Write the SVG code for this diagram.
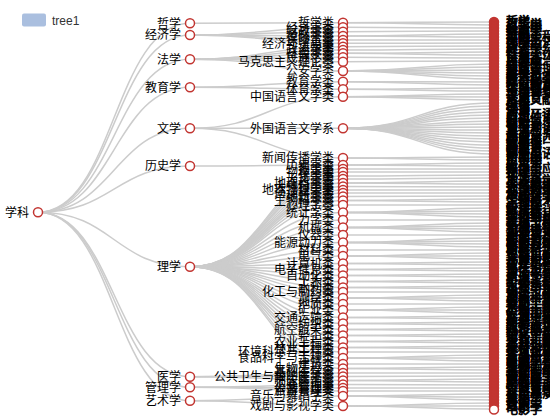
<svg xmlns="http://www.w3.org/2000/svg" width="550" height="420" viewBox="0 0 550 420">
<style>
.e path{fill:none;stroke:#ccc;stroke-width:1.5}
.nd{fill:#fff;stroke:#c23531;stroke-width:1.5}
.lf{fill:#c23531;stroke:#c23531;stroke-width:1.5}
.lb{font-family:"Noto Sans CJK SC","Liberation Sans",sans-serif;font-size:12px;fill:#000;text-anchor:end}
.lt{font-family:"Noto Sans CJK SC","Liberation Sans",sans-serif;font-size:12px;fill:#000;stroke:#000;stroke-width:0.7}
.lg{font-family:"Liberation Sans","Noto Sans CJK SC",sans-serif;font-size:12px;fill:#333}
</style>
<g id="legend"><rect x="22" y="13.5" width="24" height="13" rx="2" fill="#aabfdf"/><text class="lg" x="52" y="25">tree1</text></g>
<g class="e" id="connectors">
<path d="M38 212.3C114 212.3 114 23.3 190 23.3"/><path d="M38 212.3C114 212.3 114 35 190 35"/><path d="M38 212.3C114 212.3 114 59.3 190 59.3"/><path d="M38 212.3C114 212.3 114 87.3 190 87.3"/><path d="M38 212.3C114 212.3 114 128.3 190 128.3"/><path d="M38 212.3C114 212.3 114 166 190 166"/><path d="M38 212.3C114 212.3 114 266.7 190 266.7"/><path d="M38 212.3C114 212.3 114 376.7 190 376.7"/><path d="M38 212.3C114 212.3 114 387.3 190 387.3"/><path d="M38 212.3C114 212.3 114 400.7 190 400.7"/>
<path d="M190 23.3C266.5 23.3 266.5 22.7 343 22.7"/>
<path d="M190 35C266.5 35 266.5 27.3 343 27.3"/><path d="M190 35C266.5 35 266.5 31.7 343 31.7"/><path d="M190 35C266.5 35 266.5 36 343 36"/><path d="M190 35C266.5 35 266.5 40 343 40"/><path d="M190 35C266.5 35 266.5 43.3 343 43.3"/>
<path d="M190 59.3C266.5 59.3 266.5 46.7 343 46.7"/><path d="M190 59.3C266.5 59.3 266.5 50 343 50"/><path d="M190 59.3C266.5 59.3 266.5 53.3 343 53.3"/><path d="M190 59.3C266.5 59.3 266.5 57.3 343 57.3"/><path d="M190 59.3C266.5 59.3 266.5 61.7 343 61.7"/><path d="M190 59.3C266.5 59.3 266.5 71 343 71"/>
<path d="M190 87.3C266.5 87.3 266.5 81.7 343 81.7"/><path d="M190 87.3C266.5 87.3 266.5 89.3 343 89.3"/>
<path d="M190 128.3C266.5 128.3 266.5 96.7 343 96.7"/><path d="M190 128.3C266.5 128.3 266.5 128.3 343 128.3"/><path d="M190 128.3C266.5 128.3 266.5 158 343 158"/>
<path d="M190 166C266.5 166 266.5 165 343 165"/>
<path d="M190 266.7C266.5 266.7 266.5 169 343 169"/><path d="M190 266.7C266.5 266.7 266.5 172 343 172"/><path d="M190 266.7C266.5 266.7 266.5 176 343 176"/><path d="M190 266.7C266.5 266.7 266.5 179 343 179"/><path d="M190 266.7C266.5 266.7 266.5 183 343 183"/><path d="M190 266.7C266.5 266.7 266.5 186.5 343 186.5"/><path d="M190 266.7C266.5 266.7 266.5 190 343 190"/><path d="M190 266.7C266.5 266.7 266.5 193 343 193"/><path d="M190 266.7C266.5 266.7 266.5 196.5 343 196.5"/><path d="M190 266.7C266.5 266.7 266.5 200.5 343 200.5"/><path d="M190 266.7C266.5 266.7 266.5 205 343 205"/><path d="M190 266.7C266.5 266.7 266.5 212.5 343 212.5"/><path d="M190 266.7C266.5 266.7 266.5 220 343 220"/><path d="M190 266.7C266.5 266.7 266.5 227.5 343 227.5"/><path d="M190 266.7C266.5 266.7 266.5 235 343 235"/><path d="M190 266.7C266.5 266.7 266.5 242.5 343 242.5"/><path d="M190 266.7C266.5 266.7 266.5 250 343 250"/><path d="M190 266.7C266.5 266.7 266.5 256 343 256"/><path d="M190 266.7C266.5 266.7 266.5 263.5 343 263.5"/><path d="M190 266.7C266.5 266.7 266.5 269.5 343 269.5"/><path d="M190 266.7C266.5 266.7 266.5 275.5 343 275.5"/><path d="M190 266.7C266.5 266.7 266.5 281.5 343 281.5"/><path d="M190 266.7C266.5 266.7 266.5 287.5 343 287.5"/><path d="M190 266.7C266.5 266.7 266.5 292 343 292"/><path d="M190 266.7C266.5 266.7 266.5 298 343 298"/><path d="M190 266.7C266.5 266.7 266.5 304 343 304"/><path d="M190 266.7C266.5 266.7 266.5 310 343 310"/><path d="M190 266.7C266.5 266.7 266.5 317.5 343 317.5"/><path d="M190 266.7C266.5 266.7 266.5 323.5 343 323.5"/><path d="M190 266.7C266.5 266.7 266.5 329.5 343 329.5"/><path d="M190 266.7C266.5 266.7 266.5 335.5 343 335.5"/><path d="M190 266.7C266.5 266.7 266.5 341.5 343 341.5"/><path d="M190 266.7C266.5 266.7 266.5 347.5 343 347.5"/><path d="M190 266.7C266.5 266.7 266.5 352 343 352"/><path d="M190 266.7C266.5 266.7 266.5 358 343 358"/><path d="M190 266.7C266.5 266.7 266.5 364 343 364"/><path d="M190 266.7C266.5 266.7 266.5 368.5 343 368.5"/>
<path d="M190 376.7C266.5 376.7 266.5 373 343 373"/><path d="M190 376.7C266.5 376.7 266.5 376.5 343 376.5"/><path d="M190 376.7C266.5 376.7 266.5 380.5 343 380.5"/>
<path d="M190 387.3C266.5 387.3 266.5 384.5 343 384.5"/><path d="M190 387.3C266.5 387.3 266.5 388 343 388"/><path d="M190 387.3C266.5 387.3 266.5 391 343 391"/>
<path d="M190 400.7C266.5 400.7 266.5 396 343 396"/><path d="M190 400.7C266.5 400.7 266.5 406 343 406"/>
<path d="M343 22.7C418.5 22.7 418.5 22 494 22"/><path d="M343 22.7C418.5 22.7 418.5 25 494 25"/>
<path d="M343 27.3C418.5 27.3 418.5 28 494 28"/><path d="M343 31.7C418.5 31.7 418.5 31 494 31"/><path d="M343 36C418.5 36 418.5 34 494 34"/><path d="M343 36C418.5 36 418.5 37 494 37"/><path d="M343 40C418.5 40 418.5 40 494 40"/><path d="M343 43.3C418.5 43.3 418.5 43 494 43"/>
<path d="M343 46.7C418.5 46.7 418.5 46 494 46"/><path d="M343 50C418.5 50 418.5 49 494 49"/><path d="M343 53.3C418.5 53.3 418.5 52 494 52"/><path d="M343 53.3C418.5 53.3 418.5 55 494 55"/><path d="M343 57.3C418.5 57.3 418.5 58 494 58"/><path d="M343 61.7C418.5 61.7 418.5 61 494 61"/>
<path d="M343 71C418.5 71 418.5 64 494 64"/><path d="M343 71C418.5 71 418.5 67 494 67"/><path d="M343 71C418.5 71 418.5 70 494 70"/><path d="M343 71C418.5 71 418.5 73 494 73"/><path d="M343 71C418.5 71 418.5 76 494 76"/><path d="M343 71C418.5 71 418.5 79 494 79"/>
<path d="M343 81.7C418.5 81.7 418.5 82 494 82"/><path d="M343 81.7C418.5 81.7 418.5 85 494 85"/><path d="M343 89.3C418.5 89.3 418.5 88 494 88"/><path d="M343 89.3C418.5 89.3 418.5 91 494 91"/>
<path d="M343 96.7C418.5 96.7 418.5 94 494 94"/><path d="M343 96.7C418.5 96.7 418.5 97 494 97"/><path d="M343 96.7C418.5 96.7 418.5 100 494 100"/>
<path d="M343 128.3C418.5 128.3 418.5 103 494 103"/><path d="M343 128.3C418.5 128.3 418.5 106 494 106"/><path d="M343 128.3C418.5 128.3 418.5 109 494 109"/><path d="M343 128.3C418.5 128.3 418.5 112 494 112"/><path d="M343 128.3C418.5 128.3 418.5 115 494 115"/><path d="M343 128.3C418.5 128.3 418.5 118 494 118"/><path d="M343 128.3C418.5 128.3 418.5 121 494 121"/><path d="M343 128.3C418.5 128.3 418.5 124 494 124"/><path d="M343 128.3C418.5 128.3 418.5 127 494 127"/><path d="M343 128.3C418.5 128.3 418.5 130 494 130"/><path d="M343 128.3C418.5 128.3 418.5 133 494 133"/><path d="M343 128.3C418.5 128.3 418.5 136 494 136"/><path d="M343 128.3C418.5 128.3 418.5 139 494 139"/><path d="M343 128.3C418.5 128.3 418.5 142 494 142"/><path d="M343 128.3C418.5 128.3 418.5 145 494 145"/><path d="M343 128.3C418.5 128.3 418.5 148 494 148"/><path d="M343 128.3C418.5 128.3 418.5 151 494 151"/><path d="M343 128.3C418.5 128.3 418.5 154 494 154"/>
<path d="M343 158C418.5 158 418.5 157 494 157"/><path d="M343 158C418.5 158 418.5 160 494 160"/><path d="M343 165C418.5 165 418.5 163 494 163"/><path d="M343 165C418.5 165 418.5 166 494 166"/>
<path d="M343 169C418.5 169 418.5 169 494 169"/><path d="M343 172C418.5 172 418.5 172 494 172"/><path d="M343 176C418.5 176 418.5 175 494 175"/><path d="M343 179C418.5 179 418.5 178 494 178"/><path d="M343 183C418.5 183 418.5 181 494 181"/><path d="M343 183C418.5 183 418.5 184 494 184"/><path d="M343 186.5C418.5 186.5 418.5 187 494 187"/><path d="M343 190C418.5 190 418.5 190 494 190"/><path d="M343 193C418.5 193 418.5 193 494 193"/><path d="M343 196.5C418.5 196.5 418.5 196 494 196"/><path d="M343 200.5C418.5 200.5 418.5 199 494 199"/><path d="M343 200.5C418.5 200.5 418.5 202 494 202"/><path d="M343 205C418.5 205 418.5 205 494 205"/>
<path d="M343 212.5C418.5 212.5 418.5 208 494 208"/><path d="M343 212.5C418.5 212.5 418.5 211 494 211"/><path d="M343 212.5C418.5 212.5 418.5 214 494 214"/><path d="M343 212.5C418.5 212.5 418.5 217 494 217"/><path d="M343 220C418.5 220 418.5 220 494 220"/>
<path d="M343 227.5C418.5 227.5 418.5 223 494 223"/><path d="M343 227.5C418.5 227.5 418.5 226 494 226"/><path d="M343 227.5C418.5 227.5 418.5 229 494 229"/><path d="M343 227.5C418.5 227.5 418.5 232 494 232"/><path d="M343 235C418.5 235 418.5 235 494 235"/>
<path d="M343 242.5C418.5 242.5 418.5 238 494 238"/><path d="M343 242.5C418.5 242.5 418.5 241 494 241"/><path d="M343 242.5C418.5 242.5 418.5 244 494 244"/><path d="M343 242.5C418.5 242.5 418.5 247 494 247"/><path d="M343 250C418.5 250 418.5 250 494 250"/>
<path d="M343 256C418.5 256 418.5 253 494 253"/><path d="M343 256C418.5 256 418.5 256 494 256"/><path d="M343 256C418.5 256 418.5 259 494 259"/><path d="M343 263.5C418.5 263.5 418.5 262 494 262"/><path d="M343 263.5C418.5 263.5 418.5 265 494 265"/><path d="M343 269.5C418.5 269.5 418.5 268 494 268"/><path d="M343 269.5C418.5 269.5 418.5 271 494 271"/><path d="M343 275.5C418.5 275.5 418.5 274 494 274"/><path d="M343 275.5C418.5 275.5 418.5 277 494 277"/><path d="M343 281.5C418.5 281.5 418.5 280 494 280"/><path d="M343 281.5C418.5 281.5 418.5 283 494 283"/><path d="M343 287.5C418.5 287.5 418.5 286 494 286"/><path d="M343 287.5C418.5 287.5 418.5 289 494 289"/><path d="M343 292C418.5 292 418.5 292 494 292"/>
<path d="M343 298C418.5 298 418.5 295 494 295"/><path d="M343 298C418.5 298 418.5 298 494 298"/><path d="M343 298C418.5 298 418.5 301 494 301"/><path d="M343 304C418.5 304 418.5 304 494 304"/><path d="M343 310C418.5 310 418.5 307 494 307"/><path d="M343 310C418.5 310 418.5 310 494 310"/><path d="M343 310C418.5 310 418.5 313 494 313"/>
<path d="M343 317.5C418.5 317.5 418.5 316 494 316"/><path d="M343 317.5C418.5 317.5 418.5 319 494 319"/><path d="M343 323.5C418.5 323.5 418.5 322 494 322"/><path d="M343 323.5C418.5 323.5 418.5 325 494 325"/><path d="M343 329.5C418.5 329.5 418.5 328 494 328"/><path d="M343 329.5C418.5 329.5 418.5 331 494 331"/><path d="M343 335.5C418.5 335.5 418.5 334 494 334"/><path d="M343 335.5C418.5 335.5 418.5 337 494 337"/><path d="M343 341.5C418.5 341.5 418.5 340 494 340"/><path d="M343 341.5C418.5 341.5 418.5 343 494 343"/><path d="M343 347.5C418.5 347.5 418.5 346 494 346"/><path d="M343 347.5C418.5 347.5 418.5 349 494 349"/><path d="M343 352C418.5 352 418.5 352 494 352"/>
<path d="M343 358C418.5 358 418.5 355 494 355"/><path d="M343 358C418.5 358 418.5 358 494 358"/><path d="M343 358C418.5 358 418.5 361 494 361"/><path d="M343 364C418.5 364 418.5 364 494 364"/><path d="M343 368.5C418.5 368.5 418.5 367 494 367"/><path d="M343 368.5C418.5 368.5 418.5 370 494 370"/>
<path d="M343 373C418.5 373 418.5 373 494 373"/><path d="M343 376.5C418.5 376.5 418.5 376 494 376"/><path d="M343 380.5C418.5 380.5 418.5 379 494 379"/><path d="M343 380.5C418.5 380.5 418.5 382 494 382"/>
<path d="M343 384.5C418.5 384.5 418.5 385 494 385"/><path d="M343 388C418.5 388 418.5 388 494 388"/><path d="M343 391C418.5 391 418.5 391 494 391"/>
<path d="M343 396C418.5 396 418.5 394 494 394"/><path d="M343 396C418.5 396 418.5 397 494 397"/><path d="M343 396C418.5 396 418.5 400 494 400"/><path d="M343 406C418.5 406 418.5 403 494 403"/><path d="M343 406C418.5 406 418.5 406 494 406"/><path d="M343 406C418.5 406 418.5 409 494 409"/>
</g>
<g id="n0"><circle class="nd" cx="38" cy="212.3" r="4.5"/><text class="lb" x="29" y="216.5">学科</text></g>
<g id="n1-zx"><circle class="nd" cx="190" cy="23.3" r="4.5"/><text class="lb" x="181" y="27.5">哲学</text></g>
<g id="n1-jj"><circle class="nd" cx="190" cy="35" r="4.5"/><text class="lb" x="181" y="39.2">经济学</text></g>
<g id="n1-fx"><circle class="nd" cx="190" cy="59.3" r="4.5"/><text class="lb" x="181" y="63.5">法学</text></g>
<g id="n1-jy"><circle class="nd" cx="190" cy="87.3" r="4.5"/><text class="lb" x="181" y="91.5">教育学</text></g>
<g id="n1-wx"><circle class="nd" cx="190" cy="128.3" r="4.5"/><text class="lb" x="181" y="132.5">文学</text></g>
<g id="n1-ls"><circle class="nd" cx="190" cy="166" r="4.5"/><text class="lb" x="181" y="170.2">历史学</text></g>
<g id="n1-lx"><circle class="nd" cx="190" cy="266.7" r="4.5"/><text class="lb" x="181" y="270.9">理学</text></g>
<g id="n1-yx"><circle class="nd" cx="190" cy="376.7" r="4.5"/><text class="lb" x="181" y="380.9">医学</text></g>
<g id="n1-gl"><circle class="nd" cx="190" cy="387.3" r="4.5"/><text class="lb" x="181" y="391.5">管理学</text></g>
<g id="n1-ys"><circle class="nd" cx="190" cy="400.7" r="4.5"/><text class="lb" x="181" y="404.9">艺术学</text></g>
<g id="n2-1"><circle class="nd" cx="343" cy="22.7" r="4.5"/><text class="lb" x="334" y="26.9">哲学类</text></g>
<g id="n2-2"><circle class="nd" cx="343" cy="27.3" r="4.5"/><text class="lb" x="334" y="31.5">经济学类</text></g>
<g id="n2-3"><circle class="nd" cx="343" cy="31.7" r="4.5"/><text class="lb" x="334" y="35.9">财政学类</text></g>
<g id="n2-4"><circle class="nd" cx="343" cy="36" r="4.5"/><text class="lb" x="334" y="40.2">金融学类</text></g>
<g id="n2-5"><circle class="nd" cx="343" cy="40" r="4.5"/><text class="lb" x="334" y="44.2">保险学类</text></g>
<g id="n2-6"><circle class="nd" cx="343" cy="43.3" r="4.5"/><text class="lb" x="334" y="47.5">经济与贸易类</text></g>
<g id="n2-7"><circle class="nd" cx="343" cy="46.7" r="4.5"/><text class="lb" x="334" y="50.9">法学类</text></g>
<g id="n2-8"><circle class="nd" cx="343" cy="50" r="4.5"/><text class="lb" x="334" y="54.2">政治学类</text></g>
<g id="n2-9"><circle class="nd" cx="343" cy="53.3" r="4.5"/><text class="lb" x="334" y="57.5">社会学类</text></g>
<g id="n2-10"><circle class="nd" cx="343" cy="57.3" r="4.5"/><text class="lb" x="334" y="61.5">民族学类</text></g>
<g id="n2-11"><circle class="nd" cx="343" cy="61.7" r="4.5"/><text class="lb" x="334" y="65.9">马克思主义理论类</text></g>
<g id="n2-12"><circle class="nd" cx="343" cy="71" r="4.5"/><text class="lb" x="334" y="75.2">公安学类</text></g>
<g id="n2-13"><circle class="nd" cx="343" cy="81.7" r="4.5"/><text class="lb" x="334" y="85.9">教育学类</text></g>
<g id="n2-14"><circle class="nd" cx="343" cy="89.3" r="4.5"/><text class="lb" x="334" y="93.5">体育学类</text></g>
<g id="n2-15"><circle class="nd" cx="343" cy="96.7" r="4.5"/><text class="lb" x="334" y="100.9">中国语言文学类</text></g>
<g id="n2-16"><circle class="nd" cx="343" cy="128.3" r="4.5"/><text class="lb" x="334" y="132.5">外国语言文学系</text></g>
<g id="n2-17"><circle class="nd" cx="343" cy="158" r="4.5"/><text class="lb" x="334" y="162.2">新闻传播学类</text></g>
<g id="n2-18"><circle class="nd" cx="343" cy="165" r="4.5"/><text class="lb" x="334" y="169.2">历史学类</text></g>
<g id="n2-19"><circle class="nd" cx="343" cy="169" r="4.5"/><text class="lb" x="334" y="173.2">数学类</text></g>
<g id="n2-20"><circle class="nd" cx="343" cy="172" r="4.5"/><text class="lb" x="334" y="176.2">物理学类</text></g>
<g id="n2-21"><circle class="nd" cx="343" cy="176" r="4.5"/><text class="lb" x="334" y="180.2">化学类</text></g>
<g id="n2-22"><circle class="nd" cx="343" cy="179" r="4.5"/><text class="lb" x="334" y="183.2">天文学类</text></g>
<g id="n2-23"><circle class="nd" cx="343" cy="183" r="4.5"/><text class="lb" x="334" y="187.2">地理科学类</text></g>
<g id="n2-24"><circle class="nd" cx="343" cy="186.5" r="4.5"/><text class="lb" x="334" y="190.7">大气科学类</text></g>
<g id="n2-25"><circle class="nd" cx="343" cy="190" r="4.5"/><text class="lb" x="334" y="194.2">地球物理学类</text></g>
<g id="n2-26"><circle class="nd" cx="343" cy="193" r="4.5"/><text class="lb" x="334" y="197.2">海洋科学类</text></g>
<g id="n2-27"><circle class="nd" cx="343" cy="196.5" r="4.5"/><text class="lb" x="334" y="200.7">地质学类</text></g>
<g id="n2-28"><circle class="nd" cx="343" cy="200.5" r="4.5"/><text class="lb" x="334" y="204.7">生物科学类</text></g>
<g id="n2-29"><circle class="nd" cx="343" cy="205" r="4.5"/><text class="lb" x="334" y="209.2">心理学类</text></g>
<g id="n2-30"><circle class="nd" cx="343" cy="212.5" r="4.5"/><text class="lb" x="334" y="216.7">统计学类</text></g>
<g id="n2-31"><circle class="nd" cx="343" cy="220" r="4.5"/><text class="lb" x="334" y="224.2">力学类</text></g>
<g id="n2-32"><circle class="nd" cx="343" cy="227.5" r="4.5"/><text class="lb" x="334" y="231.7">机械类</text></g>
<g id="n2-33"><circle class="nd" cx="343" cy="235" r="4.5"/><text class="lb" x="334" y="239.2">仪器类</text></g>
<g id="n2-34"><circle class="nd" cx="343" cy="242.5" r="4.5"/><text class="lb" x="334" y="246.7">能源动力类</text></g>
<g id="n2-35"><circle class="nd" cx="343" cy="250" r="4.5"/><text class="lb" x="334" y="254.2">材料类</text></g>
<g id="n2-36"><circle class="nd" cx="343" cy="256" r="4.5"/><text class="lb" x="334" y="260.2">电气类</text></g>
<g id="n2-37"><circle class="nd" cx="343" cy="263.5" r="4.5"/><text class="lb" x="334" y="267.7">计算机类</text></g>
<g id="n2-38"><circle class="nd" cx="343" cy="269.5" r="4.5"/><text class="lb" x="334" y="273.7">电子信息类</text></g>
<g id="n2-39"><circle class="nd" cx="343" cy="275.5" r="4.5"/><text class="lb" x="334" y="279.7">自动化类</text></g>
<g id="n2-40"><circle class="nd" cx="343" cy="281.5" r="4.5"/><text class="lb" x="334" y="285.7">土木类</text></g>
<g id="n2-41"><circle class="nd" cx="343" cy="287.5" r="4.5"/><text class="lb" x="334" y="291.7">水利类</text></g>
<g id="n2-42"><circle class="nd" cx="343" cy="292" r="4.5"/><text class="lb" x="334" y="296.2">化工与制药类</text></g>
<g id="n2-43"><circle class="nd" cx="343" cy="298" r="4.5"/><text class="lb" x="334" y="302.2">测绘类</text></g>
<g id="n2-44"><circle class="nd" cx="343" cy="304" r="4.5"/><text class="lb" x="334" y="308.2">地质类</text></g>
<g id="n2-45"><circle class="nd" cx="343" cy="310" r="4.5"/><text class="lb" x="334" y="314.2">矿业类</text></g>
<g id="n2-46"><circle class="nd" cx="343" cy="317.5" r="4.5"/><text class="lb" x="334" y="321.7">交通运输类</text></g>
<g id="n2-47"><circle class="nd" cx="343" cy="323.5" r="4.5"/><text class="lb" x="334" y="327.7">纺织类</text></g>
<g id="n2-48"><circle class="nd" cx="343" cy="329.5" r="4.5"/><text class="lb" x="334" y="333.7">航空航天类</text></g>
<g id="n2-49"><circle class="nd" cx="343" cy="335.5" r="4.5"/><text class="lb" x="334" y="339.7">轻工类</text></g>
<g id="n2-50"><circle class="nd" cx="343" cy="341.5" r="4.5"/><text class="lb" x="334" y="345.7">农业工程类</text></g>
<g id="n2-51"><circle class="nd" cx="343" cy="347.5" r="4.5"/><text class="lb" x="334" y="351.7">林业工程类</text></g>
<g id="n2-52"><circle class="nd" cx="343" cy="352" r="4.5"/><text class="lb" x="334" y="356.2">环境科学与工程类</text></g>
<g id="n2-53"><circle class="nd" cx="343" cy="358" r="4.5"/><text class="lb" x="334" y="362.2">食品科学与工程类</text></g>
<g id="n2-54"><circle class="nd" cx="343" cy="364" r="4.5"/><text class="lb" x="334" y="368.2">建筑类</text></g>
<g id="n2-55"><circle class="nd" cx="343" cy="368.5" r="4.5"/><text class="lb" x="334" y="372.7">生物工程类</text></g>
<g id="n2-56"><circle class="nd" cx="343" cy="373" r="4.5"/><text class="lb" x="334" y="377.2">基础医学类</text></g>
<g id="n2-57"><circle class="nd" cx="343" cy="376.5" r="4.5"/><text class="lb" x="334" y="380.7">公共卫生与预防医学类</text></g>
<g id="n2-58"><circle class="nd" cx="343" cy="380.5" r="4.5"/><text class="lb" x="334" y="384.7">临床医学类</text></g>
<g id="n2-59"><circle class="nd" cx="343" cy="384.5" r="4.5"/><text class="lb" x="334" y="388.7">工商管理类</text></g>
<g id="n2-60"><circle class="nd" cx="343" cy="388" r="4.5"/><text class="lb" x="334" y="392.2">公共管理类</text></g>
<g id="n2-61"><circle class="nd" cx="343" cy="391" r="4.5"/><text class="lb" x="334" y="395.2">旅游管理类</text></g>
<g id="n2-62"><circle class="nd" cx="343" cy="396" r="4.5"/><text class="lb" x="334" y="400.2">音乐与舞蹈学类</text></g>
<g id="n2-63"><circle class="nd" cx="343" cy="406" r="4.5"/><text class="lb" x="334" y="410.2">戏剧与影视学类</text></g>
<g id="leaves">
<g id="l1"><circle class="lf" cx="494" cy="22" r="4.5"/><text class="lt" x="506" y="26">哲学</text></g>
<g id="l2"><circle class="lf" cx="494" cy="25" r="4.5"/><text class="lt" x="506" y="29">逻辑学</text></g>
<g id="l3"><circle class="lf" cx="494" cy="28" r="4.5"/><text class="lt" x="506" y="32">经济学</text></g>
<g id="l4"><circle class="lf" cx="494" cy="31" r="4.5"/><text class="lt" x="506" y="35">财政学</text></g>
<g id="l5"><circle class="lf" cx="494" cy="34" r="4.5"/><text class="lt" x="506" y="38">金融学</text></g>
<g id="l6"><circle class="lf" cx="494" cy="37" r="4.5"/><text class="lt" x="506" y="41">金融工程</text></g>
<g id="l7"><circle class="lf" cx="494" cy="40" r="4.5"/><text class="lt" x="506" y="44">保险学</text></g>
<g id="l8"><circle class="lf" cx="494" cy="43" r="4.5"/><text class="lt" x="506" y="47">国际经济与贸易</text></g>
<g id="l9"><circle class="lf" cx="494" cy="46" r="4.5"/><text class="lt" x="506" y="50">法学</text></g>
<g id="l10"><circle class="lf" cx="494" cy="49" r="4.5"/><text class="lt" x="506" y="53">政治学与行政学</text></g>
<g id="l11"><circle class="lf" cx="494" cy="52" r="4.5"/><text class="lt" x="506" y="56">社会学</text></g>
<g id="l12"><circle class="lf" cx="494" cy="55" r="4.5"/><text class="lt" x="506" y="59">社会工作</text></g>
<g id="l13"><circle class="lf" cx="494" cy="58" r="4.5"/><text class="lt" x="506" y="62">民族学</text></g>
<g id="l14"><circle class="lf" cx="494" cy="61" r="4.5"/><text class="lt" x="506" y="65">思想政治教育</text></g>
<g id="l15"><circle class="lf" cx="494" cy="64" r="4.5"/><text class="lt" x="506" y="68">治安学</text></g>
<g id="l16"><circle class="lf" cx="494" cy="67" r="4.5"/><text class="lt" x="506" y="71">侦查学</text></g>
<g id="l17"><circle class="lf" cx="494" cy="70" r="4.5"/><text class="lt" x="506" y="74">边防管理</text></g>
<g id="l18"><circle class="lf" cx="494" cy="73" r="4.5"/><text class="lt" x="506" y="77">禁毒学</text></g>
<g id="l19"><circle class="lf" cx="494" cy="76" r="4.5"/><text class="lt" x="506" y="80">警犬技术</text></g>
<g id="l20"><circle class="lf" cx="494" cy="79" r="4.5"/><text class="lt" x="506" y="83">经济犯罪侦查</text></g>
<g id="l21"><circle class="lf" cx="494" cy="82" r="4.5"/><text class="lt" x="506" y="86">教育学</text></g>
<g id="l22"><circle class="lf" cx="494" cy="85" r="4.5"/><text class="lt" x="506" y="89">学前教育</text></g>
<g id="l23"><circle class="lf" cx="494" cy="88" r="4.5"/><text class="lt" x="506" y="92">体育教育</text></g>
<g id="l24"><circle class="lf" cx="494" cy="91" r="4.5"/><text class="lt" x="506" y="95">运动训练</text></g>
<g id="l25"><circle class="lf" cx="494" cy="94" r="4.5"/><text class="lt" x="506" y="98">汉语言文学</text></g>
<g id="l26"><circle class="lf" cx="494" cy="97" r="4.5"/><text class="lt" x="506" y="101">汉语言</text></g>
<g id="l27"><circle class="lf" cx="494" cy="100" r="4.5"/><text class="lt" x="506" y="104">古典文献学</text></g>
<g id="l28"><circle class="lf" cx="494" cy="103" r="4.5"/><text class="lt" x="506" y="107">英语</text></g>
<g id="l29"><circle class="lf" cx="494" cy="106" r="4.5"/><text class="lt" x="506" y="110">俄语</text></g>
<g id="l30"><circle class="lf" cx="494" cy="109" r="4.5"/><text class="lt" x="506" y="113">德语</text></g>
<g id="l31"><circle class="lf" cx="494" cy="112" r="4.5"/><text class="lt" x="506" y="116">法语</text></g>
<g id="l32"><circle class="lf" cx="494" cy="115" r="4.5"/><text class="lt" x="506" y="119">西班牙语</text></g>
<g id="l33"><circle class="lf" cx="494" cy="118" r="4.5"/><text class="lt" x="506" y="122">阿拉伯语</text></g>
<g id="l34"><circle class="lf" cx="494" cy="121" r="4.5"/><text class="lt" x="506" y="125">日语</text></g>
<g id="l35"><circle class="lf" cx="494" cy="124" r="4.5"/><text class="lt" x="506" y="128">朝鲜语</text></g>
<g id="l36"><circle class="lf" cx="494" cy="127" r="4.5"/><text class="lt" x="506" y="131">葡萄牙语</text></g>
<g id="l37"><circle class="lf" cx="494" cy="130" r="4.5"/><text class="lt" x="506" y="134">意大利语</text></g>
<g id="l38"><circle class="lf" cx="494" cy="133" r="4.5"/><text class="lt" x="506" y="137">泰语</text></g>
<g id="l39"><circle class="lf" cx="494" cy="136" r="4.5"/><text class="lt" x="506" y="140">越南语</text></g>
<g id="l40"><circle class="lf" cx="494" cy="139" r="4.5"/><text class="lt" x="506" y="143">印度尼西亚语</text></g>
<g id="l41"><circle class="lf" cx="494" cy="142" r="4.5"/><text class="lt" x="506" y="146">波斯语</text></g>
<g id="l42"><circle class="lf" cx="494" cy="145" r="4.5"/><text class="lt" x="506" y="149">缅甸语</text></g>
<g id="l43"><circle class="lf" cx="494" cy="148" r="4.5"/><text class="lt" x="506" y="152">希腊语</text></g>
<g id="l44"><circle class="lf" cx="494" cy="151" r="4.5"/><text class="lt" x="506" y="155">翻译</text></g>
<g id="l45"><circle class="lf" cx="494" cy="154" r="4.5"/><text class="lt" x="506" y="158">商务英语</text></g>
<g id="l46"><circle class="lf" cx="494" cy="157" r="4.5"/><text class="lt" x="506" y="161">新闻学</text></g>
<g id="l47"><circle class="lf" cx="494" cy="160" r="4.5"/><text class="lt" x="506" y="164">广告学</text></g>
<g id="l48"><circle class="lf" cx="494" cy="163" r="4.5"/><text class="lt" x="506" y="167">历史学</text></g>
<g id="l49"><circle class="lf" cx="494" cy="166" r="4.5"/><text class="lt" x="506" y="170">考古学</text></g>
<g id="l50"><circle class="lf" cx="494" cy="169" r="4.5"/><text class="lt" x="506" y="173">数学与应用数学</text></g>
<g id="l51"><circle class="lf" cx="494" cy="172" r="4.5"/><text class="lt" x="506" y="176">物理学</text></g>
<g id="l52"><circle class="lf" cx="494" cy="175" r="4.5"/><text class="lt" x="506" y="179">化学</text></g>
<g id="l53"><circle class="lf" cx="494" cy="178" r="4.5"/><text class="lt" x="506" y="182">天文学</text></g>
<g id="l54"><circle class="lf" cx="494" cy="181" r="4.5"/><text class="lt" x="506" y="185">地理科学</text></g>
<g id="l55"><circle class="lf" cx="494" cy="184" r="4.5"/><text class="lt" x="506" y="188">人文地理与城乡规划</text></g>
<g id="l56"><circle class="lf" cx="494" cy="187" r="4.5"/><text class="lt" x="506" y="191">大气科学</text></g>
<g id="l57"><circle class="lf" cx="494" cy="190" r="4.5"/><text class="lt" x="506" y="194">地球物理学</text></g>
<g id="l58"><circle class="lf" cx="494" cy="193" r="4.5"/><text class="lt" x="506" y="197">海洋科学</text></g>
<g id="l59"><circle class="lf" cx="494" cy="196" r="4.5"/><text class="lt" x="506" y="200">地质学</text></g>
<g id="l60"><circle class="lf" cx="494" cy="199" r="4.5"/><text class="lt" x="506" y="203">生物科学</text></g>
<g id="l61"><circle class="lf" cx="494" cy="202" r="4.5"/><text class="lt" x="506" y="206">生物技术</text></g>
<g id="l62"><circle class="lf" cx="494" cy="205" r="4.5"/><text class="lt" x="506" y="209">心理学</text></g>
<g id="l63"><circle class="lf" cx="494" cy="208" r="4.5"/><text class="lt" x="506" y="212">统计学</text></g>
<g id="l64"><circle class="lf" cx="494" cy="211" r="4.5"/><text class="lt" x="506" y="215">应用统计学</text></g>
<g id="l65"><circle class="lf" cx="494" cy="214" r="4.5"/><text class="lt" x="506" y="218">经济统计学</text></g>
<g id="l66"><circle class="lf" cx="494" cy="217" r="4.5"/><text class="lt" x="506" y="221">生物统计学</text></g>
<g id="l67"><circle class="lf" cx="494" cy="220" r="4.5"/><text class="lt" x="506" y="224">理论与应用力学</text></g>
<g id="l68"><circle class="lf" cx="494" cy="223" r="4.5"/><text class="lt" x="506" y="227">机械工程</text></g>
<g id="l69"><circle class="lf" cx="494" cy="226" r="4.5"/><text class="lt" x="506" y="230">车辆工程</text></g>
<g id="l70"><circle class="lf" cx="494" cy="229" r="4.5"/><text class="lt" x="506" y="233">机械电子工程</text></g>
<g id="l71"><circle class="lf" cx="494" cy="232" r="4.5"/><text class="lt" x="506" y="236">工业设计</text></g>
<g id="l72"><circle class="lf" cx="494" cy="235" r="4.5"/><text class="lt" x="506" y="239">测控技术与仪器</text></g>
<g id="l73"><circle class="lf" cx="494" cy="238" r="4.5"/><text class="lt" x="506" y="242">能源与动力工程</text></g>
<g id="l74"><circle class="lf" cx="494" cy="241" r="4.5"/><text class="lt" x="506" y="245">新能源科学与工程</text></g>
<g id="l75"><circle class="lf" cx="494" cy="244" r="4.5"/><text class="lt" x="506" y="248">能源与环境系统工程</text></g>
<g id="l76"><circle class="lf" cx="494" cy="247" r="4.5"/><text class="lt" x="506" y="251">储能科学与工程</text></g>
<g id="l77"><circle class="lf" cx="494" cy="250" r="4.5"/><text class="lt" x="506" y="254">材料科学与工程</text></g>
<g id="l78"><circle class="lf" cx="494" cy="253" r="4.5"/><text class="lt" x="506" y="257">电气工程及其自动化</text></g>
<g id="l79"><circle class="lf" cx="494" cy="256" r="4.5"/><text class="lt" x="506" y="260">智能电网信息工程</text></g>
<g id="l80"><circle class="lf" cx="494" cy="259" r="4.5"/><text class="lt" x="506" y="263">光源与照明</text></g>
<g id="l81"><circle class="lf" cx="494" cy="262" r="4.5"/><text class="lt" x="506" y="266">计算机科学与技术</text></g>
<g id="l82"><circle class="lf" cx="494" cy="265" r="4.5"/><text class="lt" x="506" y="269">软件工程</text></g>
<g id="l83"><circle class="lf" cx="494" cy="268" r="4.5"/><text class="lt" x="506" y="272">电子信息工程</text></g>
<g id="l84"><circle class="lf" cx="494" cy="271" r="4.5"/><text class="lt" x="506" y="275">通信工程</text></g>
<g id="l85"><circle class="lf" cx="494" cy="274" r="4.5"/><text class="lt" x="506" y="278">自动化</text></g>
<g id="l86"><circle class="lf" cx="494" cy="277" r="4.5"/><text class="lt" x="506" y="281">轨道交通信号与控制</text></g>
<g id="l87"><circle class="lf" cx="494" cy="280" r="4.5"/><text class="lt" x="506" y="284">土木工程</text></g>
<g id="l88"><circle class="lf" cx="494" cy="283" r="4.5"/><text class="lt" x="506" y="287">给排水科学与工程</text></g>
<g id="l89"><circle class="lf" cx="494" cy="286" r="4.5"/><text class="lt" x="506" y="290">水利水电工程</text></g>
<g id="l90"><circle class="lf" cx="494" cy="289" r="4.5"/><text class="lt" x="506" y="293">水文与水资源工程</text></g>
<g id="l91"><circle class="lf" cx="494" cy="292" r="4.5"/><text class="lt" x="506" y="296">化学工程与工艺</text></g>
<g id="l92"><circle class="lf" cx="494" cy="295" r="4.5"/><text class="lt" x="506" y="299">测绘工程</text></g>
<g id="l93"><circle class="lf" cx="494" cy="298" r="4.5"/><text class="lt" x="506" y="302">遥感科学与技术</text></g>
<g id="l94"><circle class="lf" cx="494" cy="301" r="4.5"/><text class="lt" x="506" y="305">导航工程</text></g>
<g id="l95"><circle class="lf" cx="494" cy="304" r="4.5"/><text class="lt" x="506" y="308">地质工程</text></g>
<g id="l96"><circle class="lf" cx="494" cy="307" r="4.5"/><text class="lt" x="506" y="311">采矿工程</text></g>
<g id="l97"><circle class="lf" cx="494" cy="310" r="4.5"/><text class="lt" x="506" y="314">石油工程</text></g>
<g id="l98"><circle class="lf" cx="494" cy="313" r="4.5"/><text class="lt" x="506" y="317">矿物加工工程</text></g>
<g id="l99"><circle class="lf" cx="494" cy="316" r="4.5"/><text class="lt" x="506" y="320">交通运输</text></g>
<g id="l100"><circle class="lf" cx="494" cy="319" r="4.5"/><text class="lt" x="506" y="323">交通工程</text></g>
<g id="l101"><circle class="lf" cx="494" cy="322" r="4.5"/><text class="lt" x="506" y="326">纺织工程</text></g>
<g id="l102"><circle class="lf" cx="494" cy="325" r="4.5"/><text class="lt" x="506" y="329">服装设计与工程</text></g>
<g id="l103"><circle class="lf" cx="494" cy="328" r="4.5"/><text class="lt" x="506" y="332">航空航天工程</text></g>
<g id="l104"><circle class="lf" cx="494" cy="331" r="4.5"/><text class="lt" x="506" y="335">飞行器设计与工程</text></g>
<g id="l105"><circle class="lf" cx="494" cy="334" r="4.5"/><text class="lt" x="506" y="338">轻化工程</text></g>
<g id="l106"><circle class="lf" cx="494" cy="337" r="4.5"/><text class="lt" x="506" y="341">包装工程</text></g>
<g id="l107"><circle class="lf" cx="494" cy="340" r="4.5"/><text class="lt" x="506" y="344">农业工程</text></g>
<g id="l108"><circle class="lf" cx="494" cy="343" r="4.5"/><text class="lt" x="506" y="347">农业机械化及其自动化</text></g>
<g id="l109"><circle class="lf" cx="494" cy="346" r="4.5"/><text class="lt" x="506" y="350">森林工程</text></g>
<g id="l110"><circle class="lf" cx="494" cy="349" r="4.5"/><text class="lt" x="506" y="353">木材科学与工程</text></g>
<g id="l111"><circle class="lf" cx="494" cy="352" r="4.5"/><text class="lt" x="506" y="356">环境工程</text></g>
<g id="l112"><circle class="lf" cx="494" cy="355" r="4.5"/><text class="lt" x="506" y="359">食品科学与工程</text></g>
<g id="l113"><circle class="lf" cx="494" cy="358" r="4.5"/><text class="lt" x="506" y="362">食品质量与安全</text></g>
<g id="l114"><circle class="lf" cx="494" cy="361" r="4.5"/><text class="lt" x="506" y="365">酿酒工程</text></g>
<g id="l115"><circle class="lf" cx="494" cy="364" r="4.5"/><text class="lt" x="506" y="368">建筑学</text></g>
<g id="l116"><circle class="lf" cx="494" cy="367" r="4.5"/><text class="lt" x="506" y="371">生物工程</text></g>
<g id="l117"><circle class="lf" cx="494" cy="370" r="4.5"/><text class="lt" x="506" y="374">生物制药</text></g>
<g id="l118"><circle class="lf" cx="494" cy="373" r="4.5"/><text class="lt" x="506" y="377">基础医学</text></g>
<g id="l119"><circle class="lf" cx="494" cy="376" r="4.5"/><text class="lt" x="506" y="380">预防医学</text></g>
<g id="l120"><circle class="lf" cx="494" cy="379" r="4.5"/><text class="lt" x="506" y="383">临床医学</text></g>
<g id="l121"><circle class="lf" cx="494" cy="382" r="4.5"/><text class="lt" x="506" y="386">麻醉学</text></g>
<g id="l122"><circle class="lf" cx="494" cy="385" r="4.5"/><text class="lt" x="506" y="389">工商管理</text></g>
<g id="l123"><circle class="lf" cx="494" cy="388" r="4.5"/><text class="lt" x="506" y="392">行政管理</text></g>
<g id="l124"><circle class="lf" cx="494" cy="391" r="4.5"/><text class="lt" x="506" y="395">旅游管理</text></g>
<g id="l125"><circle class="lf" cx="494" cy="394" r="4.5"/><text class="lt" x="506" y="398">音乐表演</text></g>
<g id="l126"><circle class="lf" cx="494" cy="397" r="4.5"/><text class="lt" x="506" y="401">音乐学</text></g>
<g id="l127"><circle class="lf" cx="494" cy="400" r="4.5"/><text class="lt" x="506" y="404">舞蹈学</text></g>
<g id="l128"><circle class="lf" cx="494" cy="403" r="4.5"/><text class="lt" x="506" y="407">表演</text></g>
<g id="l129"><circle class="lf" cx="494" cy="406" r="4.5"/><text class="lt" x="506" y="410">戏剧学</text></g>
<g id="l130"><circle class="nd" cx="494" cy="409.5" r="4.5"/><text class="lt" x="506" y="413.5">电影学</text></g>
</g>
</svg>
